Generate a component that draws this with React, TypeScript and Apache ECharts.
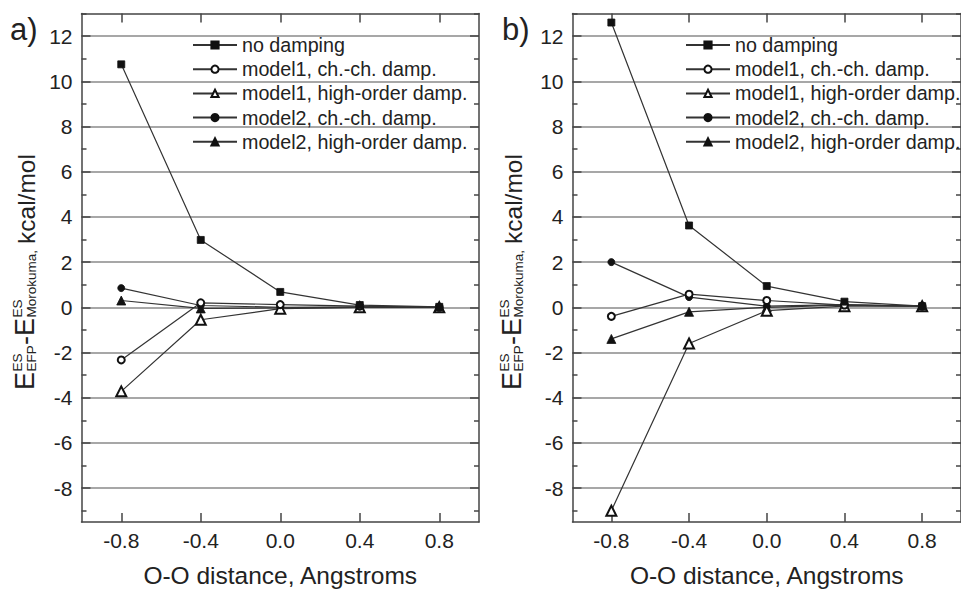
import React, { useEffect, useRef } from "react";
import * as echarts from "echarts";

const xValues = [-0.8, -0.4, 0.0, 0.4, 0.8];
const xTickValues = [-0.8, -0.4, 0.0, 0.4, 0.8];
const yMajorTicks = [-8, -6, -4, -2, 0, 2, 4, 6, 8, 10, 12];
const yMinorTicks = [-9, -7, -5, -3, -1, 1, 3, 5, 7, 9, 11, 13];

const seriesNames = [
  "no damping",
  "model1, ch.-ch. damp.",
  "model1, high-order damp.",
  "model2, ch.-ch. damp.",
  "model2, high-order damp.",
];

// panel a)
const aNoDamping = [10.75, 2.98, 0.68, 0.1, 0.02];
const aModel1ChCh = [-2.33, 0.2, 0.12, 0.05, 0.0];
const aModel1HighOrder = [-3.72, -0.55, -0.06, 0.0, 0.0];
const aModel2ChCh = [0.85, 0.08, 0.0, 0.02, 0.0];
const aModel2HighOrder = [0.3, -0.05, -0.03, 0.0, 0.0];

// panel b)
const bNoDamping = [12.6, 3.62, 0.94, 0.25, 0.05];
const bModel1ChCh = [-0.4, 0.58, 0.3, 0.1, 0.05];
const bModel1HighOrder = [-9.0, -1.6, -0.15, 0.05, 0.05];
const bModel2ChCh = [2.0, 0.45, 0.05, 0.12, 0.05];
const bModel2HighOrder = [-1.4, -0.2, 0.0, 0.1, 0.05];

const FONT = "'Liberation Sans', Arial, sans-serif";
const TEXT = "#222";
const AXIS = "#444";
const GRIDC = "#8a8a8a";
const LINEC = "#333";

const symbolStyles = [
  { symbol: "rect", symbolSize: 7 },
  { symbol: "emptyCircle", symbolSize: 7 },
  { symbol: "emptyTriangle", symbolSize: 10 },
  { symbol: "circle", symbolSize: 7 },
  { symbol: "triangle", symbolSize: 9 },
];

function buildSeries(values: number[][], xAxisIndex: number, yAxisIndex: number) {
  return values.map((vals, i) => ({
    type: "line",
    name: seriesNames[i],
    xAxisIndex,
    yAxisIndex,
    data: xValues.map((x, j) => [x, vals[j]]),
    symbol: symbolStyles[i].symbol,
    symbolSize: symbolStyles[i].symbolSize,
    showAllSymbol: true,
    lineStyle: { color: LINEC, width: 1.2 },
    itemStyle: { color: "#111", borderColor: "#111", borderWidth: 0.8 },
    z: 10 - i,
  }));
}

function xAxes(gridIndex: number) {
  const common = {
    type: "value",
    gridIndex,
    min: -1,
    max: 1,
    splitLine: { show: false },
    axisLine: { show: true, onZero: false, lineStyle: { color: AXIS, width: 1.5 } },
    axisTick: { show: true, inside: true, length: 9, customValues: xTickValues, lineStyle: { color: AXIS, width: 1.5 } },
  };
  return [
    {
      ...common,
      position: "bottom",
      axisLabel: {
        show: true,
        customValues: xTickValues,
        formatter: (v: number) => v.toFixed(1),
        fontSize: 21,
        fontFamily: FONT,
        color: TEXT,
        margin: 8,
      },
      name: "O-O distance, Angstroms",
      nameLocation: "middle",
      nameGap: 41,
      nameTextStyle: { fontSize: 24.5, fontFamily: FONT, color: TEXT },
    },
    { ...common, position: "top", axisLabel: { show: false } },
  ];
}

function yAxes(gridIndex: number) {
  const common = {
    type: "value",
    gridIndex,
    min: -9.5,
    max: 13,
  };
  const lineStyle = { color: AXIS, width: 1.5 };
  return [
    {
      ...common,
      position: "left",
      axisLine: { show: true, onZero: false, lineStyle },
      axisTick: { show: true, inside: true, length: 9, customValues: yMajorTicks, lineStyle },
      axisLabel: { show: true, customValues: yMajorTicks, fontSize: 21, fontFamily: FONT, color: TEXT, margin: 9 },
      splitLine: { show: true, lineStyle: { color: GRIDC, width: 1.5 } },
    },
    {
      ...common,
      position: "left",
      axisLine: { show: false, onZero: false },
      axisTick: { show: true, inside: true, length: 5, customValues: yMinorTicks, lineStyle },
      axisLabel: { show: false },
      splitLine: { show: false },
    },
    {
      ...common,
      position: "right",
      axisLine: { show: true, onZero: false, lineStyle },
      axisTick: { show: true, inside: true, length: 9, customValues: yMajorTicks, lineStyle },
      axisLabel: { show: false },
      splitLine: { show: false },
    },
    {
      ...common,
      position: "right",
      axisLine: { show: false, onZero: false },
      axisTick: { show: true, inside: true, length: 5, customValues: yMinorTicks, lineStyle },
      axisLabel: { show: false },
      splitLine: { show: false },
    },
  ];
}

function yLabel(gx: number, bottomY: number) {
  const big = 27;
  const mid = 24.5;
  const small = 13.5;
  const t = (text: string, x: number, y: number, fontSize: number) => ({
    type: "text",
    x,
    y,
    style: { text, fontSize, fontFamily: FONT, fill: TEXT, align: "left", verticalAlign: "middle" },
  });
  return {
    type: "group",
    x: gx,
    y: bottomY,
    rotation: Math.PI / 2,
    children: [
      t("E", 0, 0, big),
      t("ES", 18.5, -8, small),
      t("EFP", 18.5, 6.5, small),
      t("-", 45, 0, big),
      t("E", 54, 0, big),
      t("ES", 72.5, -8, small),
      t("Morokuma,", 72.5, 6.5, small),
      t("kcal/mol", 146, 1, mid),
    ],
  };
}

export default function App() {
  const ref = useRef<HTMLDivElement>(null);
  useEffect(() => {
    document.body.style.margin = "0";
    if (!ref.current) return;
    const chart = echarts.init(ref.current, undefined, { renderer: "svg" });
    const legendCommon = {
      orient: "vertical",
      top: 35,
      padding: 0,
      itemWidth: 44,
      itemHeight: 9,
      itemGap: 4.2,
      selectedMode: false,
      textStyle: { fontSize: 19.7, fontFamily: FONT, color: TEXT },
      data: seriesNames,
    };
    chart.setOption({
      animation: false,
      backgroundColor: "#fff",
      grid: [
        { left: 81.5, top: 13.5, width: 397.5, height: 515.5 },
        { left: 572.5, top: 13.5, width: 397.5, height: 515.5 },
      ],
      xAxis: [...xAxes(0), ...xAxes(1)],
      yAxis: [...yAxes(0), ...yAxes(1)],
      legend: [
        { ...legendCommon, left: 192 },
        { ...legendCommon, left: 685 },
      ],
      graphic: [
        { type: "text", x: 10, y: 29, style: { text: "a)", fontSize: 31, fontFamily: FONT, fill: TEXT, verticalAlign: "middle" } },
        { type: "text", x: 502, y: 29, style: { text: "b)", fontSize: 31, fontFamily: FONT, fill: TEXT, verticalAlign: "middle" } },
        yLabel(25, 390),
        yLabel(512, 390),
      ],
      series: [
        ...buildSeries([aNoDamping, aModel1ChCh, aModel1HighOrder, aModel2ChCh, aModel2HighOrder], 0, 0),
        ...buildSeries([bNoDamping, bModel1ChCh, bModel1HighOrder, bModel2ChCh, bModel2HighOrder], 2, 4),
      ],
    });
    return () => chart.dispose();
  }, []);
  return <div ref={ref} style={{ width: 961, height: 593 }} />;
}
